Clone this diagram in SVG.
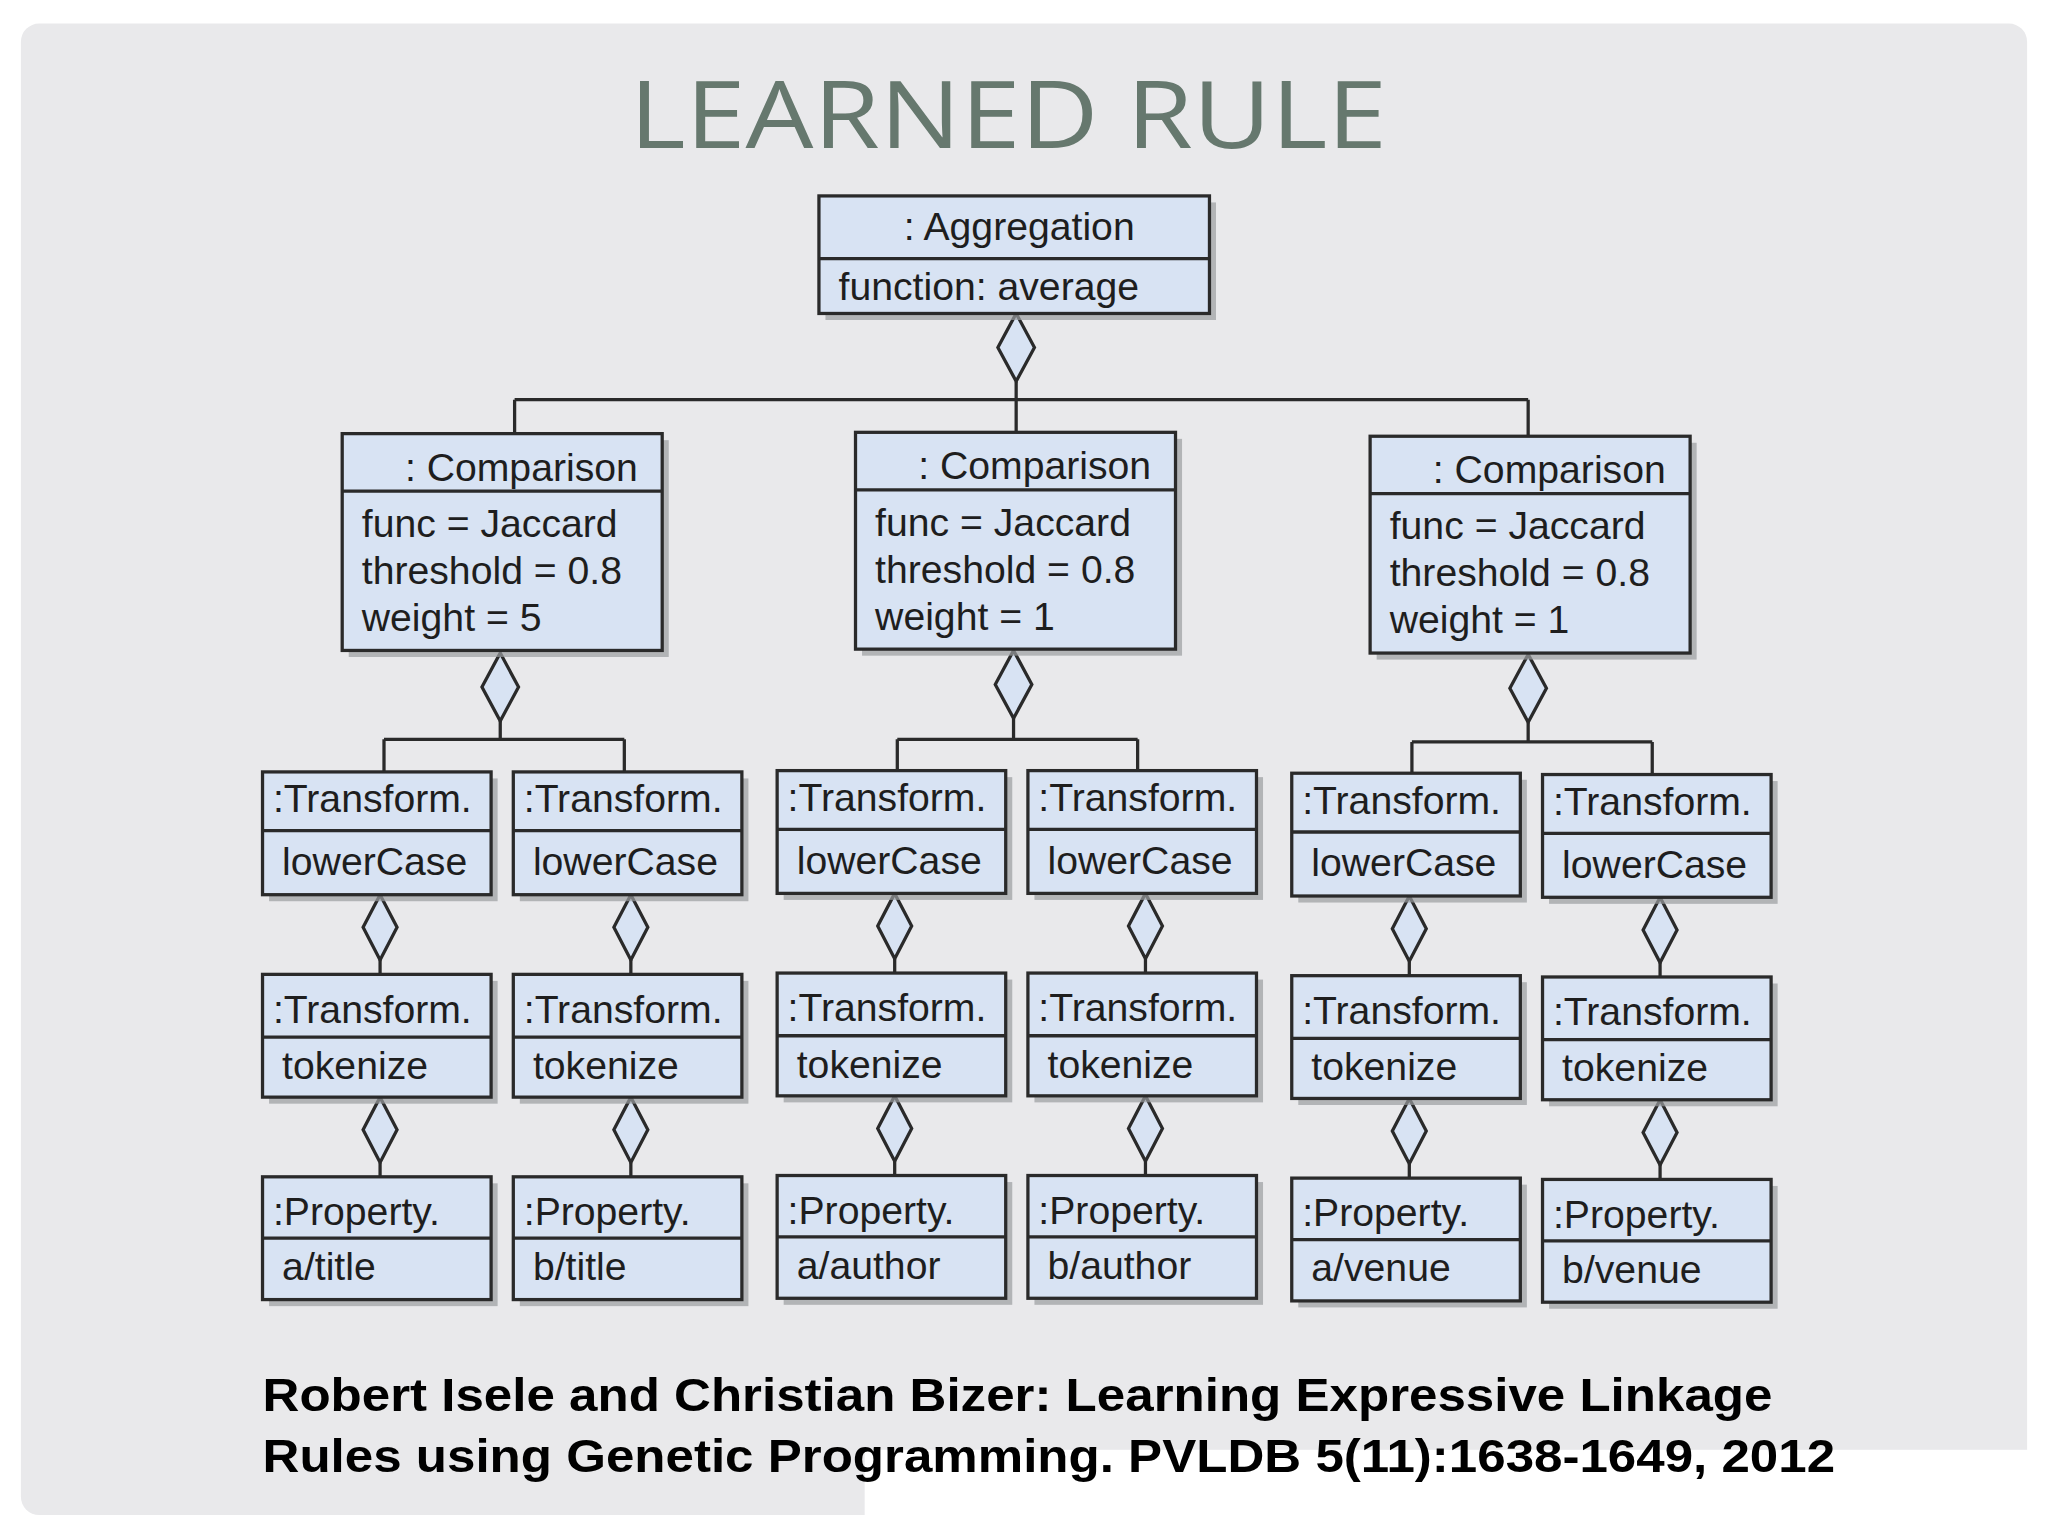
<svg xmlns="http://www.w3.org/2000/svg" width="2048" height="1536" viewBox="0 0 2048 1536">
<defs>
<style>
.b{fill:#d8e3f3;stroke:#2a2a2a;stroke-width:2.5}
.s{fill:#9a9ca0;opacity:.7}
.l{stroke:#2a2a2a;stroke-width:2.5;fill:none}
.d{fill:#d8e3f3;stroke:#2a2a2a;stroke-width:2.5}
.t{font-family:"Liberation Sans",Arial,sans-serif;font-size:30px;fill:#1e1e1e}
.c{font-family:"Liberation Sans",Arial,sans-serif;font-size:36px;font-weight:bold;fill:#000}
</style>
</defs>
<rect width="2048" height="1536" fill="#ffffff"/>
<g transform="scale(1.30612)">
<rect x="16" y="18" width="1536" height="1142" rx="14" fill="#e9e9eb"/>
<rect x="662" y="1110" width="906" height="66" fill="#ffffff"/>
<text x="482" y="113" textLength="580" lengthAdjust="spacingAndGlyphs" font-family="'Open Sans',sans-serif" font-size="72" fill="#66786e">LEARNED RULE</text>
<g id="connectors">
<path class="l" d="M778 292V306M394 306H1170M394 306V332M778 306V331M1170 306V334"/>
<path class="d" d="M778 240L792 266L778 292L764 266Z"/>
<path class="l" d="M383 552V566M294 566H478M294 566V591M478 566V591"/>
<path class="d" d="M383 500L397 526L383 552L369 526Z"/>
<path class="l" d="M776 550V566M687 566H871M687 566V590M871 566V590"/>
<path class="d" d="M776 498L790 524L776 550L762 524Z"/>
<path class="l" d="M1170 553V568M1081 568H1265M1081 568V592M1265 568V592"/>
<path class="d" d="M1170 501L1184 527L1170 553L1156 527Z"/>
</g>
<g id="agg"><rect class="s" x="632" y="155" width="299" height="90"/><rect class="b" x="627" y="150" width="299" height="90"/><path class="l" d="M627 198H926"/><text class="t" x="692" y="184">: Aggregation</text><text class="t" x="642" y="230">function: average</text></g>
<g id="cmp1"><rect class="s" x="267" y="337" width="245" height="166"/><rect class="b" x="262" y="332" width="245" height="166"/><path class="l" d="M262 376H507"/><text class="t" x="310" y="368">: Comparison</text><text class="t" x="277" y="411">func = Jaccard</text><text class="t" x="277" y="447">threshold = 0.8</text><text class="t" x="277" y="483">weight = 5</text></g>
<g id="cmp2"><rect class="s" x="660" y="336" width="245" height="166"/><rect class="b" x="655" y="331" width="245" height="166"/><path class="l" d="M655 375H900"/><text class="t" x="703" y="367">: Comparison</text><text class="t" x="670" y="410">func = Jaccard</text><text class="t" x="670" y="446">threshold = 0.8</text><text class="t" x="670" y="482">weight = 1</text></g>
<g id="cmp3"><rect class="s" x="1054" y="339" width="245" height="166"/><rect class="b" x="1049" y="334" width="245" height="166"/><path class="l" d="M1049 378H1294"/><text class="t" x="1097" y="370">: Comparison</text><text class="t" x="1064" y="413">func = Jaccard</text><text class="t" x="1064" y="449">threshold = 0.8</text><text class="t" x="1064" y="485">weight = 1</text></g>
<g id="leaves">
<g id="col1" transform="translate(201,0)">
<path class="l" d="M90 735V746M90 890V901"/>
<path class="d" d="M90 685L103 710L90 735L77 710Z"/>
<path class="d" d="M90 840L103 865L90 890L77 865Z"/>
<rect class="s" x="5" y="596" width="175" height="94"/><rect class="b" x="0" y="591" width="175" height="94"/><path class="l" d="M0 636H175"/><text class="t" x="8" y="622">:Transform.</text><text class="t" x="15" y="670">lowerCase</text>
<rect class="s" x="5" y="751" width="175" height="94"/><rect class="b" x="0" y="746" width="175" height="94"/><path class="l" d="M0 794H175"/><text class="t" x="8" y="783">:Transform.</text><text class="t" x="15" y="826">tokenize</text>
<rect class="s" x="5" y="906" width="175" height="94"/><rect class="b" x="0" y="901" width="175" height="94"/><path class="l" d="M0 948H175"/><text class="t" x="8" y="938">:Property.</text><text class="t" x="15" y="980">a/title</text>
</g>
<g id="col2" transform="translate(393,0)">
<path class="l" d="M90 735V746M90 890V901"/>
<path class="d" d="M90 685L103 710L90 735L77 710Z"/>
<path class="d" d="M90 840L103 865L90 890L77 865Z"/>
<rect class="s" x="5" y="596" width="175" height="94"/><rect class="b" x="0" y="591" width="175" height="94"/><path class="l" d="M0 636H175"/><text class="t" x="8" y="622">:Transform.</text><text class="t" x="15" y="670">lowerCase</text>
<rect class="s" x="5" y="751" width="175" height="94"/><rect class="b" x="0" y="746" width="175" height="94"/><path class="l" d="M0 794H175"/><text class="t" x="8" y="783">:Transform.</text><text class="t" x="15" y="826">tokenize</text>
<rect class="s" x="5" y="906" width="175" height="94"/><rect class="b" x="0" y="901" width="175" height="94"/><path class="l" d="M0 948H175"/><text class="t" x="8" y="938">:Property.</text><text class="t" x="15" y="980">b/title</text>
</g>
<g id="col3" transform="translate(595,-1)">
<path class="l" d="M90 735V746M90 890V901"/>
<path class="d" d="M90 685L103 710L90 735L77 710Z"/>
<path class="d" d="M90 840L103 865L90 890L77 865Z"/>
<rect class="s" x="5" y="596" width="175" height="94"/><rect class="b" x="0" y="591" width="175" height="94"/><path class="l" d="M0 636H175"/><text class="t" x="8" y="622">:Transform.</text><text class="t" x="15" y="670">lowerCase</text>
<rect class="s" x="5" y="751" width="175" height="94"/><rect class="b" x="0" y="746" width="175" height="94"/><path class="l" d="M0 794H175"/><text class="t" x="8" y="783">:Transform.</text><text class="t" x="15" y="826">tokenize</text>
<rect class="s" x="5" y="906" width="175" height="94"/><rect class="b" x="0" y="901" width="175" height="94"/><path class="l" d="M0 948H175"/><text class="t" x="8" y="938">:Property.</text><text class="t" x="15" y="980">a/author</text>
</g>
<g id="col4" transform="translate(787,-1)">
<path class="l" d="M90 735V746M90 890V901"/>
<path class="d" d="M90 685L103 710L90 735L77 710Z"/>
<path class="d" d="M90 840L103 865L90 890L77 865Z"/>
<rect class="s" x="5" y="596" width="175" height="94"/><rect class="b" x="0" y="591" width="175" height="94"/><path class="l" d="M0 636H175"/><text class="t" x="8" y="622">:Transform.</text><text class="t" x="15" y="670">lowerCase</text>
<rect class="s" x="5" y="751" width="175" height="94"/><rect class="b" x="0" y="746" width="175" height="94"/><path class="l" d="M0 794H175"/><text class="t" x="8" y="783">:Transform.</text><text class="t" x="15" y="826">tokenize</text>
<rect class="s" x="5" y="906" width="175" height="94"/><rect class="b" x="0" y="901" width="175" height="94"/><path class="l" d="M0 948H175"/><text class="t" x="8" y="938">:Property.</text><text class="t" x="15" y="980">b/author</text>
</g>
<g id="col5" transform="translate(989,1)">
<path class="l" d="M90 735V746M90 890V901"/>
<path class="d" d="M90 685L103 710L90 735L77 710Z"/>
<path class="d" d="M90 840L103 865L90 890L77 865Z"/>
<rect class="s" x="5" y="596" width="175" height="94"/><rect class="b" x="0" y="591" width="175" height="94"/><path class="l" d="M0 636H175"/><text class="t" x="8" y="622">:Transform.</text><text class="t" x="15" y="670">lowerCase</text>
<rect class="s" x="5" y="751" width="175" height="94"/><rect class="b" x="0" y="746" width="175" height="94"/><path class="l" d="M0 794H175"/><text class="t" x="8" y="783">:Transform.</text><text class="t" x="15" y="826">tokenize</text>
<rect class="s" x="5" y="906" width="175" height="94"/><rect class="b" x="0" y="901" width="175" height="94"/><path class="l" d="M0 948H175"/><text class="t" x="8" y="938">:Property.</text><text class="t" x="15" y="980">a/venue</text>
</g>
<g id="col6" transform="translate(1181,2)">
<path class="l" d="M90 735V746M90 890V901"/>
<path class="d" d="M90 685L103 710L90 735L77 710Z"/>
<path class="d" d="M90 840L103 865L90 890L77 865Z"/>
<rect class="s" x="5" y="596" width="175" height="94"/><rect class="b" x="0" y="591" width="175" height="94"/><path class="l" d="M0 636H175"/><text class="t" x="8" y="622">:Transform.</text><text class="t" x="15" y="670">lowerCase</text>
<rect class="s" x="5" y="751" width="175" height="94"/><rect class="b" x="0" y="746" width="175" height="94"/><path class="l" d="M0 794H175"/><text class="t" x="8" y="783">:Transform.</text><text class="t" x="15" y="826">tokenize</text>
<rect class="s" x="5" y="906" width="175" height="94"/><rect class="b" x="0" y="901" width="175" height="94"/><path class="l" d="M0 948H175"/><text class="t" x="8" y="938">:Property.</text><text class="t" x="15" y="980">b/venue</text>
</g>
</g>
<text class="c" x="201" y="1080" textLength="1156" lengthAdjust="spacingAndGlyphs">Robert Isele and Christian Bizer: Learning Expressive Linkage</text>
<text class="c" x="201" y="1127" textLength="1204" lengthAdjust="spacingAndGlyphs">Rules using Genetic Programming. PVLDB 5(11):1638-1649, 2012</text>
</g>
</svg>
